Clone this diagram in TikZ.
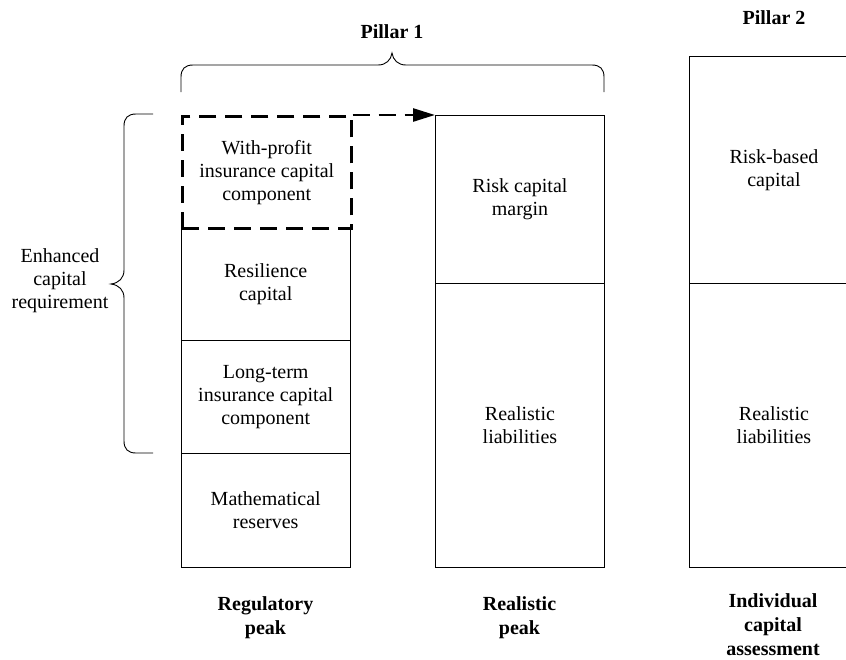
\documentclass[tikz,border=0pt]{standalone}
\usepackage{fontspec}
\setmainfont{Liberation Serif}
\usetikzlibrary{arrows.meta}
\begin{document}
\begin{tikzpicture}[x=1pt,y=-1pt,
  cell/.style={minimum width=169pt, inner sep=0pt, align=center, anchor=north west,
    font=\fontsize{20}{23}\selectfont},
  boxline/.style={line width=0.9pt, draw=black},
  dashedbox/.style={line width=2.6pt, dash pattern=on 17pt off 9pt},
  heading/.style={align=center, inner sep=0pt, font=\bfseries\fontsize{20}{24}\selectfont},
  bracepath/.style={line width=0.9pt},
  plain/.style={align=center, inner sep=0pt, font=\fontsize{20}{23}\selectfont}]
\useasboundingbox (0,0) rectangle (846,659);
\clip (0,0) rectangle (846,659);

% Regulatory peak column
\node[cell, minimum height=113pt] (res) at (181,227) {Resilience\\capital};
\node[cell, minimum height=113pt] (lt) at (181,340) {Long-term\\insurance capital\\component};
\node[cell, minimum height=114pt] (mr) at (181,453) {Mathematical\\reserves};
\draw[boxline] (res.north west) -- (mr.south west) -- (mr.south east) -- (res.north east);
\draw[boxline] (lt.north west) -- (lt.north east);
\draw[boxline] (mr.north west) -- (mr.north east);
\node[cell, minimum height=112pt, draw, dashedbox] (wp) at (181,115) {With-profit\\insurance capital\\component};

% Realistic peak column
\node[cell, minimum height=168pt, boxline, draw] (rcm) at (435,115) {Risk capital\\margin};
\node[cell, minimum height=284pt, boxline, draw] (rl) at (435,283) {Realistic\\liabilities};

% Individual capital assessment column
\node[cell, minimum height=227pt, boxline, draw] (rbc) at (689,56) {Risk-based\\capital};
\node[cell, minimum height=284pt, boxline, draw] (rl2) at (689,283) {Realistic\\liabilities};

% Transfer arrow
\draw[dashedbox, -{Triangle[length=22pt, width=13pt]}] (wp.north east) -- (rcm.north west);

% Pillar 1 brace
\draw[bracepath] (181,92) -- (181,77) .. controls (181,69) and (185,65) .. (193,65)
  -- (378,65) .. controls (386,65) and (391,60) .. (392,53)
  .. controls (393,60) and (398,65) .. (406,65)
  -- (592,65) .. controls (600,65) and (604,69) .. (604,77) -- (604,92);

% Enhanced capital requirement brace
\draw[bracepath] (153,114) -- (136,114) .. controls (128,114) and (124,118) .. (124,126)
  -- (124,270) .. controls (124,278) and (119,283) .. (111,284)
  .. controls (119,285) and (124,290) .. (124,298)
  -- (124,441) .. controls (124,449) and (128,453) .. (136,453) -- (153,453);

\node[plain] (ecr) at (60,281) {Enhanced\\capital\\requirement};

% Headings
\node[heading] (p1) at (392,32) {Pillar 1};
\node[heading] (p2) at (774,18) {Pillar 2};
\node[heading] (rp) at (265.5,617.5) {Regulatory\\peak};
\node[heading] (rlp) at (519.5,617.5) {Realistic\\peak};
\node[heading] (ica) at (773,624.5) {Individual\\capital\\assessment};
\end{tikzpicture}
\end{document}
